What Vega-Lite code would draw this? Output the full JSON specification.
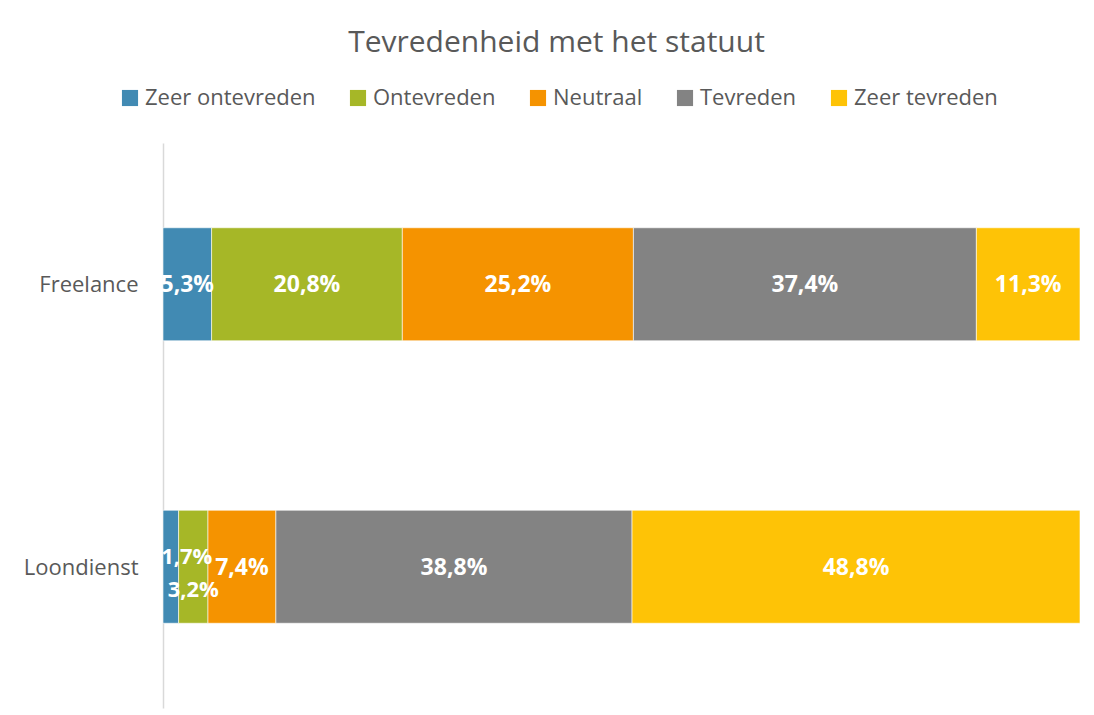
{
  "$schema": "https://vega.github.io/schema/vega-lite/v6.json",
  "width": 917,
  "height": 565,
  "autosize": {"type": "none"},
  "padding": {"left": 163, "top": 143, "right": 14, "bottom": 7},
  "background": "white",
  "title": {
    "text": "Tevredenheid met het statuut",
    "font": "Open Sans",
    "fontSize": 30,
    "fontWeight": "normal",
    "color": "#595959",
    "anchor": "middle",
    "frame": "group",
    "dx": -65,
    "offset": 29
  },
  "data": {
    "values": [
      {"statuut": "Freelance", "cat": "Zeer ontevreden", "order": 1, "value": 5.3},
      {"statuut": "Freelance", "cat": "Ontevreden", "order": 2, "value": 20.8},
      {"statuut": "Freelance", "cat": "Neutraal", "order": 3, "value": 25.2},
      {"statuut": "Freelance", "cat": "Tevreden", "order": 4, "value": 37.4},
      {"statuut": "Freelance", "cat": "Zeer tevreden", "order": 5, "value": 11.3},
      {"statuut": "Loondienst", "cat": "Zeer ontevreden", "order": 1, "value": 1.7},
      {"statuut": "Loondienst", "cat": "Ontevreden", "order": 2, "value": 3.2},
      {"statuut": "Loondienst", "cat": "Neutraal", "order": 3, "value": 7.4},
      {"statuut": "Loondienst", "cat": "Tevreden", "order": 4, "value": 38.8},
      {"statuut": "Loondienst", "cat": "Zeer tevreden", "order": 5, "value": 48.8}
    ]
  },
  "transform": [
    {"calculate": "replace(format(datum.value, '.1f'), '.', ',') + '%'", "as": "label"},
    {"stack": "value", "groupby": ["statuut"], "sort": [{"field": "order", "order": "ascending"}], "offset": "normalize", "as": ["x0", "x1"]},
    {"calculate": "(datum.x0 + datum.x1) / 2", "as": "xmid"}
  ],
  "encoding": {
    "y": {
      "field": "statuut",
      "type": "nominal",
      "sort": ["Freelance", "Loondienst"],
      "scale": {"paddingInner": 0.6, "paddingOuter": 0.3},
      "axis": {
        "title": null,
        "ticks": false,
        "domainColor": "#d9d9d9",
        "domainWidth": 1.5,
        "labelFont": "Open Sans",
        "labelFontSize": 22,
        "labelColor": "#595959",
        "labelPadding": 25,
        "labelOffset": 1
      }
    }
  },
  "layer": [
    {
      "mark": {"type": "bar", "stroke": "white", "strokeWidth": 0.6},
      "encoding": {
        "x": {"field": "x0", "type": "quantitative", "scale": {"domain": [0, 1], "nice": false}, "axis": null},
        "x2": {"field": "x1"},
        "color": {
          "field": "cat",
          "type": "nominal",
          "sort": ["Zeer ontevreden", "Ontevreden", "Neutraal", "Tevreden", "Zeer tevreden"],
          "scale": {
            "domain": ["Zeer ontevreden", "Ontevreden", "Neutraal", "Tevreden", "Zeer tevreden"],
            "range": ["#418ab3", "#a6b727", "#f59300", "#838383", "#fec306"]
          },
          "legend": {
            "title": null,
            "orient": "none",
            "direction": "horizontal",
            "legendX": -44,
            "legendY": -56,
            "symbolType": "square",
            "symbolSize": 260,
            "symbolStrokeWidth": 0,
            "labelFont": "Open Sans",
            "labelFontSize": 22,
            "labelColor": "#595959",
            "labelLimit": 300,
            "columnPadding": 31,
            "labelOffset": 4
          }
        }
      }
    },
    {
      "transform": [{"filter": "datum.value >= 5"}],
      "mark": {"type": "text", "color": "white", "font": "Open Sans", "fontWeight": "bold", "fontSize": 23, "baseline": "middle", "dy": 1},
      "encoding": {
        "x": {"field": "xmid", "type": "quantitative", "scale": {"domain": [0, 1], "nice": false}},
        "text": {"field": "label"}
      }
    },
    {
      "transform": [{"filter": "datum.value < 5 && datum.order == 1"}],
      "mark": {"type": "text", "color": "white", "font": "Open Sans", "fontWeight": "bold", "fontSize": 22, "baseline": "middle", "dx": 16, "dy": -10},
      "encoding": {
        "x": {"field": "xmid", "type": "quantitative", "scale": {"domain": [0, 1], "nice": false}},
        "text": {"field": "label"}
      }
    },
    {
      "transform": [{"filter": "datum.value < 5 && datum.order == 2"}],
      "mark": {"type": "text", "color": "white", "font": "Open Sans", "fontWeight": "bold", "fontSize": 22, "baseline": "middle", "dy": 23},
      "encoding": {
        "x": {"field": "xmid", "type": "quantitative", "scale": {"domain": [0, 1], "nice": false}},
        "text": {"field": "label"}
      }
    }
  ],
  "config": {"view": {"stroke": null}}
}
